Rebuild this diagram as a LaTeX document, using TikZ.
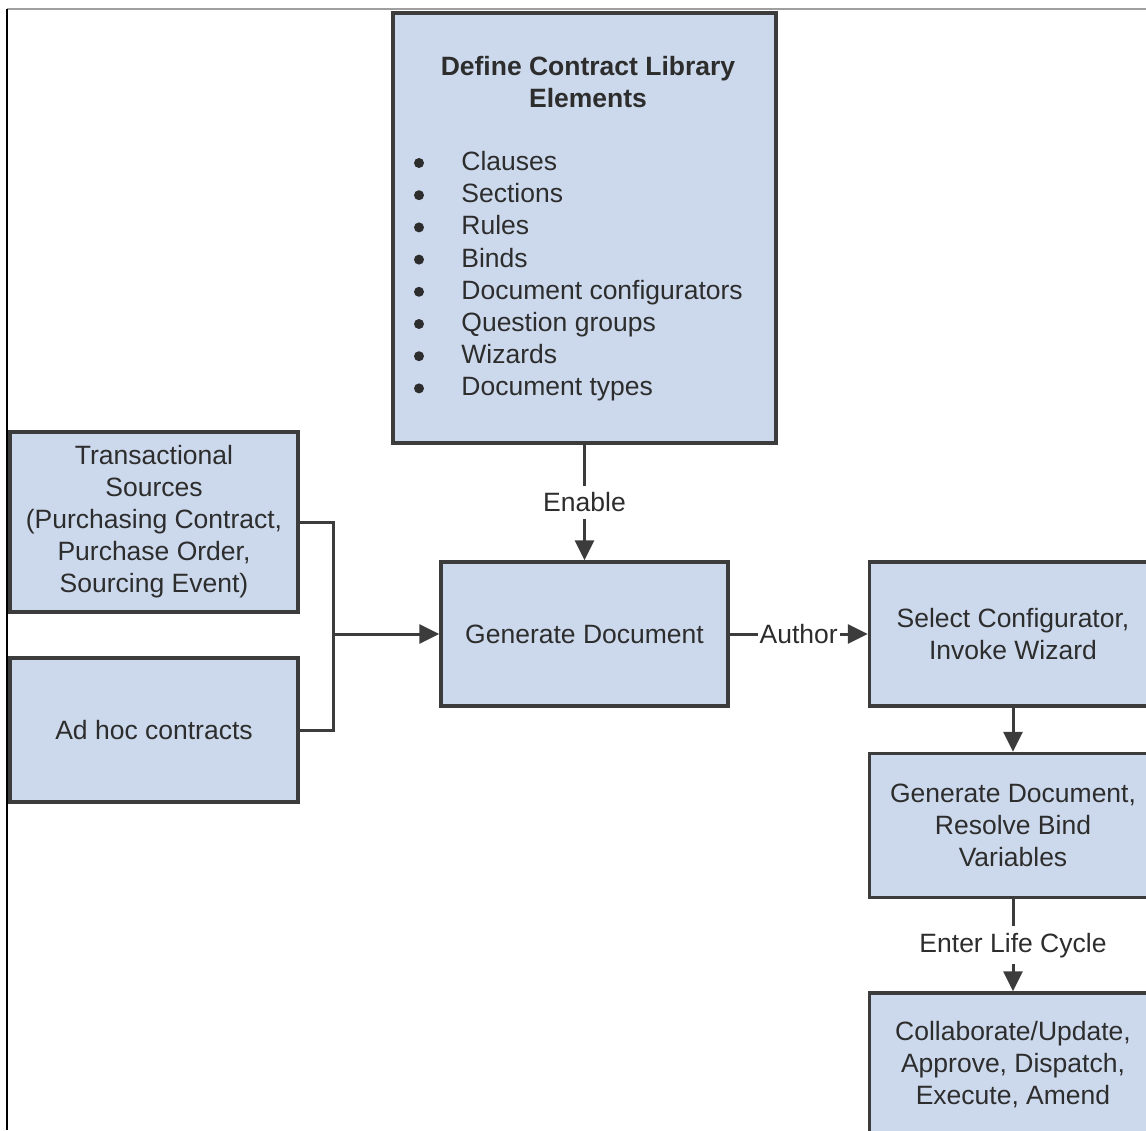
\documentclass[tikz,border=0pt]{standalone}
\usepackage{fontspec}
\setmainfont{Liberation Sans}
\usetikzlibrary{positioning}
\usetikzlibrary{arrows.meta}
\definecolor{boxfill}{RGB}{204,217,236}
\definecolor{boxline}{RGB}{60,60,60}
\definecolor{txt}{RGB}{45,45,45}

\begin{document}
\begin{tikzpicture}[x=0.5pt,y=-0.5pt,
		every node/.style={font=\fontsize{13.25}{16}\selectfont,text=txt},
		box/.style={draw=boxline,fill=boxfill,line width=1.75pt,minimum width=143.5pt,minimum height=72pt,align=center,inner sep=0pt},
		arr/.style={draw=boxline,line width=1.5pt,-{Triangle[length=10pt,width=9.5pt]}},
		lbl/.style={fill=white}]
		\useasboundingbox (0,0) rectangle (1146,1130);
		\clip (0,0) rectangle (1146,1130);
		\draw[gray!75,line width=0.6pt] (7,9) -- (1146,9);
		\draw[black,line width=1pt] (7,9) -- (7,1130);

		\node[box,minimum width=191.5pt,minimum height=215pt] (define) at (584.5,228) {};
		\node[font=\bfseries\fontsize{13.25}{16.25}\selectfont,align=center] (title) at (588,82) {Define Contract Library\\Elements};
		\foreach \elem [count=\n from 0] in {Clauses,Sections,Rules,Binds,Document configurators,Question groups,Wizards,Document types}{
			\fill[txt] (419,163+32.2*\n) circle (5);
			\node[anchor=base west,inner sep=0pt] (elem\n) at (461,170.5+32.2*\n) {\elem};
		}

		\node[box,minimum width=144pt,minimum height=90pt] (trans) at (154,522) {Transactional\\Sources\\(Purchasing Contract,\\Purchase Order,\\Sourcing Event)};
		\node[box,minimum width=144pt] (adhoc) at (154,730) {Ad hoc contracts};
		\node[box] (gendoc) at (584.5,634) {Generate Document};
		\node[box] (select) at (1013,634) {Select Configurator,\\Invoke Wizard};
		\node[box] (resolve) at (1013,825.5) {Generate Document,\\Resolve Bind\\Variables};
		\node[box] (collab) at (1013,1065) {Collaborate/Update,\\Approve, Dispatch,\\Execute, Amend};

		\coordinate (join) at (333,634);
		\draw[boxline,line width=1.5pt] (trans.east) -| (join) |- (adhoc.east);
		\draw[arr] (join) -- (gendoc);
		\draw[arr] (define) -- node[lbl] (enable) {Enable} (gendoc);
		\draw[arr] (gendoc) -- node[lbl,inner sep=1pt] (author) {Author} (select);
		\draw[arr] (select) -- (resolve);
		\draw[arr] (resolve) -- node[lbl] (enter) {Enter Life Cycle} (collab);
	\end{tikzpicture}
\end{document}
